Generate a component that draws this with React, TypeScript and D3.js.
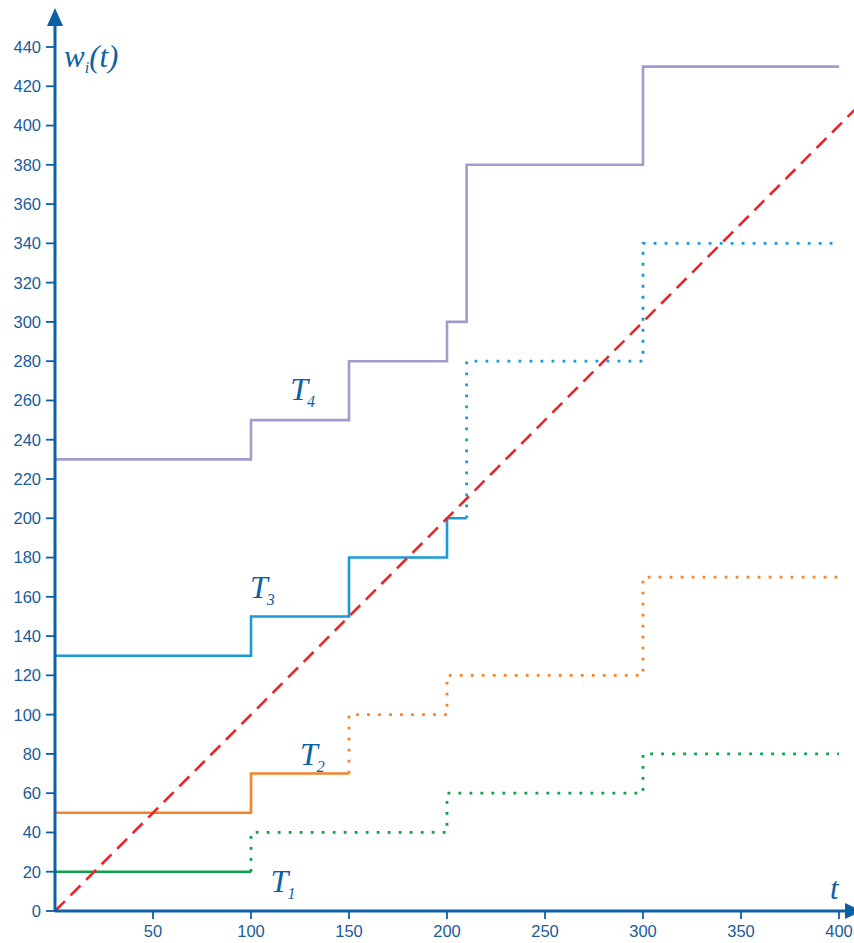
import React from "react";
import * as d3 from "d3";

const W = 854;
const H = 943;

const yTicks = [0, 20, 40, 60, 80, 100, 120, 140, 160, 180, 200, 220, 240, 260, 280, 300, 320, 340, 360, 380, 400, 420, 440];
const xTicks = [50, 100, 150, 200, 250, 300, 350, 400];

// step series: times and values (step after)
const t1SolidT = [0, 100];
const t1SolidV = [20, 20];
const t1DotT = [100, 100, 200, 300, 400];
const t1DotV = [20, 40, 60, 80, 80];

const t2SolidT = [0, 100, 150];
const t2SolidV = [50, 70, 70];
const t2DotT = [150, 150, 200, 300, 400];
const t2DotV = [70, 100, 120, 170, 170];

const t3SolidT = [0, 100, 150, 200, 210];
const t3SolidV = [130, 150, 180, 200, 200];
const t3DotT = [210, 210, 300, 400];
const t3DotV = [200, 280, 340, 340];

const t4SolidT = [0, 100, 150, 200, 210, 300, 400];
const t4SolidV = [230, 250, 280, 300, 380, 430, 430];

const diagT = [0, 408];

const labels = [
  { sub: "4", t: 120, v: 260 },
  { sub: "3", t: 99.5, v: 159.5 },
  { sub: "2", t: 125, v: 74.5 },
  { sub: "1", t: 110, v: 9.5 },
];

const axisColor = "#0d5fa6";
const textColor = "#1b5b9a";

export default function App() {
  const x = d3.scaleLinear().domain([0, 400]).range([55, 839]);
  const y = d3.scaleLinear().domain([0, 440]).range([911, 47]);

  const step = (ts: number[], vs: number[]) =>
    d3
      .line<number>()
      .x((_, i) => x(ts[i]))
      .y((_, i) => y(vs[i]))
      .curve(d3.curveStepAfter)(ts.map((_, i) => i)) || "";

  const diag = d3
    .line<number>()
    .x((d) => x(d))
    .y((d) => y(d))(diagT) || "";

  const solidW = 2.6;
  const dotStyle = { strokeWidth: 2.8, strokeDasharray: "2.8 8.2" };
  const serif = "Liberation Serif, Times New Roman, serif";

  return (
    <svg
      width={W}
      height={H}
      style={{ position: "absolute", left: 0, top: 0, background: "#fff" }}
      fontFamily="Liberation Sans, Arial, sans-serif"
    >
      {/* dotted continuations */}
      <path d={step(t1DotT, t1DotV)} fill="none" stroke="#0aa34a" {...dotStyle} />
      <path d={step(t2DotT, t2DotV)} fill="none" stroke="#f5832a" {...dotStyle} />
      <path d={step(t3DotT, t3DotV)} fill="none" stroke="#1a9ad8" {...dotStyle} />

      {/* solid steps */}
      <path d={step(t1SolidT, t1SolidV)} fill="none" stroke="#0aa34a" strokeWidth={solidW} />
      <path d={step(t2SolidT, t2SolidV)} fill="none" stroke="#f5832a" strokeWidth={solidW} />
      <path d={step(t3SolidT, t3SolidV)} fill="none" stroke="#1a9ad8" strokeWidth={solidW} />
      <path d={step(t4SolidT, t4SolidV)} fill="none" stroke="#a29ccc" strokeWidth={solidW} />

      {/* diagonal */}
      <path d={diag} fill="none" stroke="#e8262a" strokeWidth={2.6} strokeDasharray="14 8" />

      {/* axes */}
      <line x1={x(0)} y1={y(0)} x2={x(0)} y2={24} stroke={axisColor} strokeWidth={3} />
      <path d={`M${x(0) - 8},26 L${x(0)},8 L${x(0) + 8},26 Z`} fill={axisColor} />
      <line x1={x(0)} y1={y(0)} x2={846} y2={y(0)} stroke={axisColor} strokeWidth={3} />
      <path d={`M845,${y(0) - 8} L862,${y(0)} L845,${y(0) + 8} Z`} fill={axisColor} />

      {yTicks.map((v) => (
        <g key={"y" + v}>
          <line x1={x(0) - 9} x2={x(0)} y1={y(v)} y2={y(v)} stroke={axisColor} strokeWidth={1.8} />
          <text x={x(0) - 14} y={y(v)} dy="0.36em" textAnchor="end" fontSize={16.5} fill={textColor}>
            {v}
          </text>
        </g>
      ))}
      {xTicks.map((v) => (
        <g key={"x" + v}>
          <line x1={x(v)} x2={x(v)} y1={y(0)} y2={y(0) + 8} stroke={axisColor} strokeWidth={1.8} />
          <text x={x(v)} y={y(0) + 26} textAnchor="middle" fontSize={16.5} fill={textColor}>
            {v}
          </text>
        </g>
      ))}

      {/* axis labels */}
      <text x={64} y={67} fontFamily={serif} fontStyle="italic" fontSize={31} fill={axisColor}>
        w<tspan fontSize={16} dy={6}>i</tspan>
        <tspan dy={-6}>(t)</tspan>
      </text>
      <text x={830} y={899} fontFamily={serif} fontStyle="italic" fontSize={31} fill={axisColor}>
        t
      </text>

      {labels.map((l) => (
        <text key={l.sub} x={x(l.t)} y={y(l.v)} fontFamily={serif} fontStyle="italic" fontSize={32} fill={axisColor}>
          T<tspan fontSize={16} dx={-1} dy={7}>{l.sub}</tspan>
        </text>
      ))}
    </svg>
  );
}
